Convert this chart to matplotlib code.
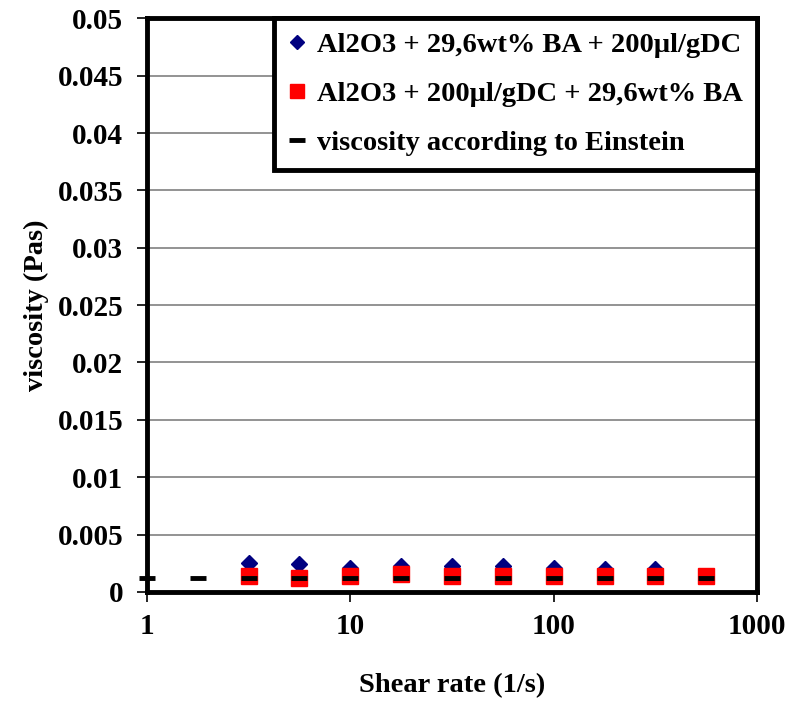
import numpy as np
import matplotlib.pyplot as plt

plt.rcParams['font.family'] = ['Liberation Serif', 'DejaVu Serif']
plt.rcParams['font.weight'] = 'bold'

# shear rates (1/s)
rate = [3.16, 5.62, 10, 17.8, 31.6, 56.2, 100, 178, 316, 562]
rate_d = [3.16, 5.62, 10, 17.8, 31.6, 56.2, 100, 178, 316]
visc_d = [0.0025, 0.0024, 0.0021, 0.0023, 0.0023, 0.0023, 0.0021, 0.0020, 0.0020]
visc_s = [0.00135, 0.00125, 0.0014, 0.00154, 0.0014, 0.0014, 0.0014, 0.0014, 0.0014, 0.0014]
rate_e = [1.0, 1.78, 3.16, 5.62, 10, 17.8, 31.6, 56.2, 100, 178, 316, 562]
visc_e = [0.00122] * 12

lab_d = "Al2O3 + 29,6wt% BA + 200µl/gDC"
lab_s = "Al2O3 + 200µl/gDC + 29,6wt% BA"
lab_e = "viscosity according to Einstein"

fig = plt.figure(figsize=(7.86, 7.03), dpi=100)
ax = fig.add_axes([0.187, 0.158, 0.776, 0.816])

ax.plot(rate_d, visc_d, linestyle='none', marker='D', markersize=8, color='#000080', label=lab_d)
ax.plot(rate, visc_s, linestyle='none', marker='s', markersize=11, color='#ff0000', label=lab_s)
ax.plot(rate_e, visc_e, linestyle='none', marker='_', markersize=12, markeredgewidth=3.5,
        color='black', label=lab_e, clip_on=False, zorder=5)

ax.set_xscale('log')
ax.set_xlim(1, 1000)
ax.set_ylim(0, 0.05)
ax.set_yticks(np.arange(0, 0.0501, 0.005))
ax.set_yticklabels(['0', '0.005', '0.01', '0.015', '0.02', '0.025', '0.03', '0.035', '0.04', '0.045', '0.05'])
ax.set_xticks([1, 10, 100, 1000])
ax.set_xticklabels(['1', '10', '100', '1000'])
ax.minorticks_off()
ax.tick_params(axis='both', labelsize=21, length=7, width=1.2, direction='out', pad=10)
ax.tick_params(axis='x', pad=8)
ax.yaxis.grid(True, color='#808080', linewidth=1.2)
ax.set_axisbelow(True)
for s in ax.spines.values():
    s.set_linewidth(3.5)

ax.set_xlabel("Shear rate (1/s)", fontsize=20.5, fontweight='bold', labelpad=24)
ax.set_ylabel("viscosity (Pas)", fontsize=20.5, fontweight='bold', labelpad=6)

leg = ax.legend(loc='upper right', fontsize=20.5, frameon=True, fancybox=False,
                borderaxespad=0, handlelength=0.6, handletextpad=0.4,
                labelspacing=0.8, borderpad=0.5, markerscale=0.95)
leg.get_frame().set_edgecolor('black')
leg.get_frame().set_linewidth(3.5)
leg.get_frame().set_alpha(1)

fig.savefig('out.png', dpi=100)
